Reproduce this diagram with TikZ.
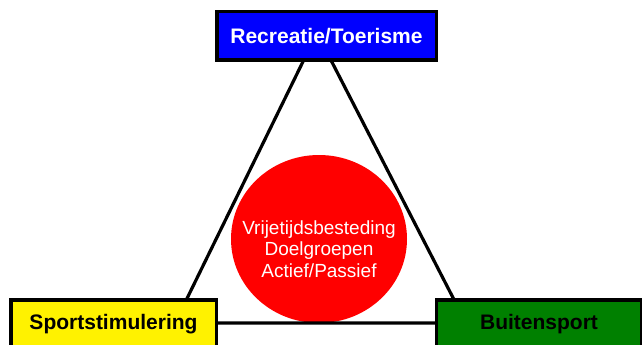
\documentclass[tikz,border=0pt]{standalone}
\usepackage{fontspec}
\setmainfont{Liberation Sans}
\usetikzlibrary{shapes.geometric}
\begin{document}
\begin{tikzpicture}[x=1pt,y=-1pt,
  vak/.style={draw=black,line width=3.5pt,minimum width=205.5pt,minimum height=48.5pt,inner sep=0pt,font=\fontsize{21}{25}\selectfont\bfseries},
  lijn/.style={line width=3.2pt}]
\useasboundingbox (0,0) rectangle (642,345);
\coordinate (top) at (317,33);
\coordinate (links) at (175,323);
\coordinate (rechts) at (466,323);
\node[ellipse,fill=red,minimum width=176pt,minimum height=168pt,inner sep=0pt] (kern) at (319,239) {};
\draw[lijn] (top) -- (links) -- (rechts) -- cycle;
\node[align=center,text=white,font=\fontsize{19}{21.5}\selectfont] (kerntekst) at (319,249) {Vrijetijdsbesteding\\Doelgroepen\\Actief/Passief};
\node[vak,minimum width=219.5pt,fill=blue,text=white] (recreatie) at (326.5,36) {Recreatie/Toerisme};
\node[vak,fill=yellow] (sport) at (113.5,324) {Sportstimulering};
\node[vak,fill={rgb,255:red,0;green,128;blue,0}] (buiten) at (539,324) {Buitensport};
\end{tikzpicture}
\end{document}
